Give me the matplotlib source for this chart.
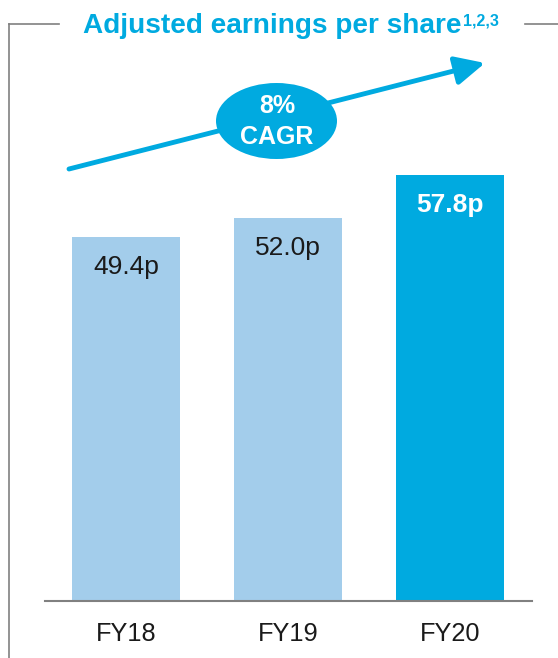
import matplotlib.pyplot as plt
from matplotlib.patches import Ellipse, FancyArrowPatch
from matplotlib.lines import Line2D

plt.rcParams['font.family'] = ['Liberation Sans', 'DejaVu Sans']

years = ['FY18', 'FY19', 'FY20']
eps = [49.4, 52.0, 57.8]
labels = ['49.4p', '52.0p', '57.8p']
bar_colors = ['#a3cdeb', '#a3cdeb', '#00aae0']
label_colors = ['#1a1a1a', '#1a1a1a', 'white']
label_weights = ['normal', 'normal', 'bold']

blue = '#00aae0'
grey = '#808080'

W, H = 558, 658
fig = plt.figure(figsize=(W / 100, H / 100), dpi=100)

def fx(px):
    return px / W

def fy(py):
    return 1 - py / H

# axes: baseline at y=600.7 px, top of figure at ylim top
ax = fig.add_axes([fx(44.5), fy(600.7), fx(532) - fx(44.5), fy(0) - fy(600.7)])
x = list(range(len(years)))
ax.bar(x, eps, width=0.667, color=bar_colors)
ax.set_xlim(-0.503, 2.506)
ax.set_ylim(0, 600.7 / 7.36)
ax.set_xticks(x)
ax.set_xticklabels(years, fontsize=18.3, color='#1a1a1a')
ax.tick_params(axis='x', length=0, pad=15)
ax.set_yticks([])
for s in ['top', 'left', 'right']:
    ax.spines[s].set_visible(False)
ax.spines['bottom'].set_color(grey)
ax.spines['bottom'].set_linewidth(1.5)
ax.patch.set_alpha(0)

for i, v in enumerate(eps):
    ax.annotate(labels[i], xy=(i, v), xytext=(0, -21.5), textcoords='offset points',
                ha='center', va='center', fontsize=19, color=label_colors[i],
                fontweight=label_weights[i])

# frame lines
fig.add_artist(Line2D([fx(8.5), fx(8.5)], [fy(24), fy(H)], color=grey, lw=1.2))
fig.add_artist(Line2D([fx(8.5), fx(59)], [fy(24), fy(24)], color=grey, lw=1.2))
fig.add_artist(Line2D([fx(525), fx(W)], [fy(24), fy(24)], color=grey, lw=1.2))

# title
fig.text(fx(83), fy(33), 'Adjusted earnings per share', ha='left', va='baseline',
         fontsize=20.2, fontweight='bold', color=blue)
fig.text(fx(463), fy(25), '1,2,3', ha='left', va='baseline',
         fontsize=11.5, fontweight='bold', color=blue)

# growth arrow
arrow = FancyArrowPatch((fx(69), fy(169)), (fx(485), fy(63)), transform=fig.transFigure,
                        arrowstyle='-|>,head_length=1.2,head_width=0.58',
                        mutation_scale=15, color=blue, lw=3.5, shrinkA=0, shrinkB=0)
fig.add_artist(arrow)

# CAGR bubble
ell = Ellipse((fx(276.5), fy(121)), fx(121), 76 / H, transform=fig.transFigure,
              facecolor=blue, edgecolor='none')
fig.add_artist(ell)
fig.text(fx(277), fy(106), '8%', ha='center', va='center', fontsize=18,
         fontweight='bold', color='white')
fig.text(fx(277), fy(137.5), 'CAGR', ha='center', va='center', fontsize=18,
         fontweight='bold', color='white')

fig.savefig('out.png', dpi=100)
